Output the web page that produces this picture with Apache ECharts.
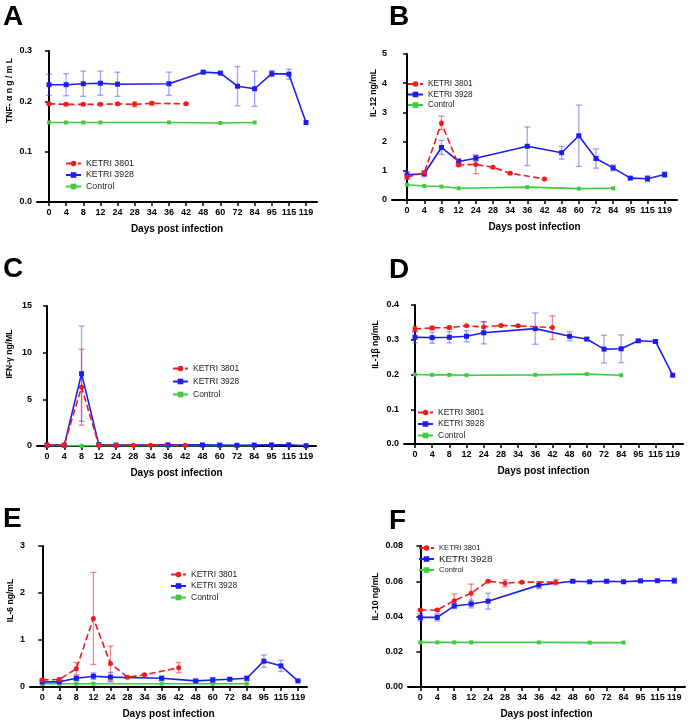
<!DOCTYPE html>
<html>
<head>
<meta charset="utf-8">
<script src="https://cdn.jsdelivr.net/npm/echarts@6/dist/echarts.min.js"></script>
<style>
  html, body { margin: 0; padding: 0; background: #fff; }
  #chart { width: 690px; height: 722px; }
</style>
</head>
<body>
<div id="chart"></div>
<script>
// x categories (days post infection)
const days = ['0', '4', '8', '12', '24', '28', '34', '36', '42', '48', '60', '72', '84', '95', '115', '119'];
const seriesNames = ['KETRI 3801', 'KETRI 3928', 'Control'];

// A - TNF-alpha
const tnf3801 = [0.195, 0.194, 0.194, 0.194, 0.195, 0.194, 0.196, null, 0.195, null, null, null, null, null, null, null];
const tnf3801Err = [0.002, 0.002, 0.002, 0.002, 0.002, 0.005, 0.003, null, 0.002, null, null, null, null, null, null, null];
const tnf3928 = [0.233, 0.233, 0.235, 0.236, 0.234, null, null, 0.235, null, 0.258, 0.256, 0.230, 0.225, 0.255, 0.254, 0.158];
const tnf3928Err = [0.021, 0.022, 0.025, 0.024, 0.024, null, null, 0.023, null, 0.003, 0.002, 0.039, 0.035, 0.006, 0.010, 0];
const tnfCtrl = [0.158, 0.158, 0.158, 0.158, null, null, null, 0.158, null, null, 0.157, null, 0.158, null, null, null];

// B - IL-12
const il12_3801 = [0.79, 0.93, 2.64, 1.20, 1.22, 1.12, 0.92, null, 0.72, null, null, null, null, null, null, null];
const il12_3801Err = [0.08, 0.06, 0.23, 0.05, 0.32, 0.03, 0.03, null, 0.03, null, null, null, null, null, null, null];
const il12_3928 = [0.86, 0.90, 1.80, 1.32, 1.43, null, null, 1.84, null, 1.62, 2.20, 1.42, 1.10, 0.75, 0.73, 0.87];
const il12_3928Err = [0.12, 0.10, 0.24, 0.10, 0.10, null, null, 0.66, null, 0.22, 1.05, 0.33, 0.10, 0.03, 0.10, 0.09];
const il12Ctrl = [0.52, 0.48, 0.46, 0.40, null, null, null, 0.44, null, null, 0.39, null, 0.40, null, null, null];

// C - IFN-gamma
const ifn3801 = [0.10, 0.10, 6.30, 0.10, 0.08, 0.08, 0.08, null, 0.08, null, null, null, null, null, null, null];
const ifn3801Err = [0, 0, 4.07, 0, 0, 0, 0, null, 0, null, null, null, null, null, null, null];
const ifn3928 = [0.10, 0.10, 7.75, 0.15, 0.10, null, null, 0.12, null, 0.12, 0.10, 0.08, 0.10, 0.12, 0.12, 0.03];
const ifn3928Err = [0, 0, 5.10, 0, 0, null, null, 0, null, 0, 0, 0, 0, 0, 0, 0];
const ifnCtrl = [0.02, 0.02, 0.02, 0.02, null, null, null, 0.02, null, null, 0.02, null, 0.02, null, null, null];

// D - IL-1beta
const il1b3801 = [0.331, 0.334, 0.335, 0.340, 0.337, 0.341, 0.340, null, 0.335, null, null, null, null, null, null, null];
const il1b3801Err = [0.007, 0.005, 0.004, 0.002, 0.015, 0.002, 0.002, null, 0.034, null, null, null, null, null, null, null];
const il1b3928 = [0.307, 0.306, 0.307, 0.310, 0.320, null, null, 0.332, null, 0.310, 0.302, 0.273, 0.274, 0.297, 0.295, 0.198];
const il1b3928Err = [0.016, 0.016, 0.016, 0.016, 0.032, null, null, 0.045, null, 0.013, 0.004, 0.040, 0.040, 0.002, 0.004, 0];
const il1bCtrl = [0.200, 0.199, 0.199, 0.198, null, null, null, 0.199, null, null, 0.201, null, 0.198, null, null, null];

// E - IL-6
const il6_3801 = [0.15, 0.16, 0.39, 1.46, 0.50, 0.21, 0.26, null, 0.41, null, null, null, null, null, null, null];
const il6_3801Err = [0.03, 0.03, 0.13, 0.98, 0.37, 0.02, 0.02, null, 0.11, null, null, null, null, null, null, null];
const il6_3928 = [0.11, 0.11, 0.185, 0.23, 0.21, null, null, 0.185, null, 0.13, 0.15, 0.165, 0.185, 0.55, 0.45, 0.13];
const il6_3928Err = [0.04, 0.03, 0.05, 0.07, 0.10, null, null, 0.05, null, 0.02, 0.05, 0.02, 0.05, 0.13, 0.12, 0.01];
const il6Ctrl = [0.07, 0.07, 0.07, 0.07, null, null, null, 0.07, null, null, 0.07, null, 0.07, null, null, null];

// F - IL-10
const il10_3801 = [0.0437, 0.0437, 0.0490, 0.0532, 0.0600, 0.0589, 0.0595, null, 0.0595, null, null, null, null, null, null, null];
const il10_3801Err = [0.0005, 0.0005, 0.0038, 0.0052, 0.0005, 0.0020, 0.0005, null, 0.0015, null, null, null, null, null, null, null];
const il10_3928 = [0.0395, 0.0395, 0.0460, 0.0471, 0.0487, null, null, 0.0578, null, 0.0600, 0.0597, 0.0600, 0.0597, 0.0602, 0.0603, 0.0603];
const il10_3928Err = [0.0020, 0.0020, 0.0015, 0.0022, 0.0045, null, null, 0.0020, null, 0.0005, 0.0005, 0.0005, 0.0005, 0.0005, 0.0005, 0.0015];
const il10Ctrl = [0.0253, 0.0253, 0.0253, 0.0253, null, null, null, 0.0253, null, null, 0.0252, null, 0.0252, null, null, null];

const FONT = '"Liberation Sans", Arial, sans-serif';
const RED = '#f21a1a', BLUE = '#1d1df2', GREEN = '#3dcc3d';
const RED_ERR = 'rgba(240,40,40,0.55)', BLUE_ERR = 'rgba(70,70,255,0.5)';

// layout per panel; nameShift moves the y title up from the axis middle
const panels = [
  { letter: 'A', lx: 3, ly: 3, grid: { left: 37, top: 51, width: 280, height: 151 }, xr: [-0.7, 15.64],
    yMax: 0.3, yStep: 0.1, dec: 1, yName: 'TNF- α n g / m L', yGap: 23, nameShift: 36,
    leg: { left: 65, top: 159, gap: 2.5, fs: 8.8 },
    d: [tnf3801, tnf3928, tnfCtrl], e: [tnf3801Err, tnf3928Err] },
  { letter: 'B', lx: 389, ly: 3, grid: { left: 392, top: 54, width: 285, height: 146 }, xr: [-0.88, 15.72],
    yMax: 5, yStep: 1, dec: 0, yName: 'IL-12 ng/mL', yGap: 13, nameShift: 34,
    leg: { left: 407, top: 80, gap: 2.5, fs: 8.2 },
    d: [il12_3801, il12_3928, il12Ctrl], e: [il12_3801Err, il12_3928Err] },
  { letter: 'C', lx: 3, ly: 255, grid: { left: 37, top: 306, width: 279, height: 140 }, xr: [-0.58, 15.58],
    yMax: 15, yStep: 5, dec: 0, yName: 'IFN-γ ng/ML', yGap: 23, nameShift: 22,
    leg: { left: 172, top: 364, gap: 4, fs: 8.5 },
    d: [ifn3801, ifn3928, ifnCtrl], e: [ifn3801Err, ifn3928Err] },
  { letter: 'D', lx: 389, ly: 256, grid: { left: 404, top: 305, width: 279, height: 139 }, xr: [-0.64, 15.6],
    yMax: 0.4, yStep: 0.1, dec: 1, yName: 'IL-1β ng/mL', yGap: 24, nameShift: 30,
    leg: { left: 417, top: 408, gap: 2.5, fs: 8.5 },
    d: [il1b3801, il1b3928, il1bCtrl], e: [il1b3801Err, il1b3928Err] },
  { letter: 'E', lx: 3, ly: 505, grid: { left: 30, top: 546, width: 277, height: 141 }, xr: [-0.72, 15.53],
    yMax: 3, yStep: 1, dec: 0, yName: 'IL-6 ng/mL', yGap: 15, nameShift: 16,
    leg: { left: 170, top: 570, gap: 2.5, fs: 8.5 },
    d: [il6_3801, il6_3928, il6Ctrl], e: [il6_3801Err, il6_3928Err] },
  { letter: 'F', lx: 389, ly: 507, grid: { left: 408, top: 546, width: 277, height: 141 }, xr: [-0.73, 15.63],
    yMax: 0.08, yStep: 0.02, dec: 2, yName: 'IL-10 ng/mL', yGap: 28, nameShift: 20,
    leg: { left: 418, top: 544, gap: 2, fs: 7.6, bigFs: 9.8 },
    d: [il10_3801, il10_3928, il10Ctrl], e: [il10_3801Err, il10_3928Err] }
];

const idx = days.map((_, i) => i);

function pts(arr) {
  const out = [];
  arr.forEach((v, i) => { if (v != null) out.push([i, v]); });
  return out;
}
function errPts(vals, errs) {
  const out = [];
  vals.forEach((v, i) => { if (v != null && errs[i]) out.push([i, v, errs[i]]); });
  return out;
}

function errorBar(color) {
  return function (params, api) {
    const x = api.value(0), v = api.value(1), e = api.value(2);
    const hi = api.coord([x, v + e]);
    const lo = api.coord([x, v - e]);
    const w = 3;
    const style = { stroke: color, lineWidth: 1.3 };
    return {
      type: 'group',
      children: [
        { type: 'line', shape: { x1: hi[0], y1: hi[1], x2: lo[0], y2: lo[1] }, style: style },
        { type: 'line', shape: { x1: hi[0] - w, y1: hi[1], x2: hi[0] + w, y2: hi[1] }, style: style },
        { type: 'line', shape: { x1: lo[0] - w, y1: lo[1], x2: lo[0] + w, y2: lo[1] }, style: style }
      ]
    };
  };
}

const option = { animation: false, textStyle: { fontFamily: FONT }, title: [], grid: [], xAxis: [], yAxis: [], legend: [], series: [] };

panels.forEach((p, i) => {
  option.title.push({ text: p.letter, left: p.lx, top: p.ly, padding: 0,
    textStyle: { fontSize: 28, fontWeight: 'bold', color: '#000', fontFamily: FONT } });
  option.grid.push(Object.assign({ containLabel: false }, p.grid));
  option.xAxis.push({
    type: 'value', gridIndex: i, min: p.xr[0], max: p.xr[1],
    name: 'Days post infection', nameLocation: 'middle', nameGap: 22,
    nameTextStyle: { fontSize: 10, fontWeight: 'bold', color: '#000', fontFamily: FONT },
    axisLine: { lineStyle: { color: '#000', width: 2 } },
    axisTick: { show: true, length: 4, customValues: idx, lineStyle: { color: '#000', width: 1.5 } },
    axisLabel: { customValues: idx, formatter: v => days[Math.round(v)], fontSize: 9, fontWeight: 'bold', color: '#000', margin: 6, fontFamily: FONT },
    splitLine: { show: false }
  });
  option.yAxis.push({
    type: 'value', gridIndex: i, min: 0, max: p.yMax, interval: p.yStep,
    name: p.yName, nameLocation: 'middle', nameRotate: 90, nameGap: p.yGap,
    nameTextStyle: { fontSize: 8.6, fontWeight: 'bold', color: '#000', fontFamily: FONT,
      padding: [0, 0, 0, p.nameShift * 2] },
    axisLine: { show: true, lineStyle: { color: '#000', width: 2 } },
    axisTick: { show: true, length: 4, lineStyle: { color: '#000', width: 1.5 } },
    axisLabel: { formatter: v => v.toFixed(p.dec), fontSize: 9, fontWeight: 'bold', color: '#000', margin: 5, fontFamily: FONT },
    splitLine: { show: false }
  });
  option.legend.push({
    orient: 'vertical', left: p.leg.left, top: p.leg.top, padding: 0,
    itemWidth: 15, itemHeight: 7, itemGap: p.leg.gap, selectedMode: false,
    textStyle: { fontSize: p.leg.fs, color: '#222', fontFamily: FONT },
    data: seriesNames.map((n, k) => (p.leg.bigFs && k === 1) ? { name: n, textStyle: { fontSize: p.leg.bigFs } } : { name: n })
  });

  const styles = [
    { color: RED, type: 'dashed', symbol: 'circle', size: 5 },
    { color: BLUE, type: 'solid', symbol: 'rect', size: 5 },
    { color: GREEN, type: 'solid', symbol: 'rect', size: 4 }
  ];
  // error bars first (drawn under lines)
  [0, 1].forEach(k => {
    option.series.push({
      type: 'custom', xAxisIndex: i, yAxisIndex: i, z: 1, silent: true,
      renderItem: errorBar(k === 0 ? RED_ERR : BLUE_ERR),
      data: errPts(p.d[k], p.e[k])
    });
  });
  seriesNames.forEach((n, k) => {
    const s = styles[k];
    option.series.push({
      name: n, type: 'line', xAxisIndex: i, yAxisIndex: i, z: 5 - k,
      data: pts(p.d[k]), symbol: s.symbol, symbolSize: s.size, showSymbol: true,
      itemStyle: { color: s.color }, lineStyle: { color: s.color, width: 1.6, type: s.type }
    });
  });
});

const chart = echarts.init(document.getElementById('chart'));
chart.setOption(option);
</script>
</body>
</html>
